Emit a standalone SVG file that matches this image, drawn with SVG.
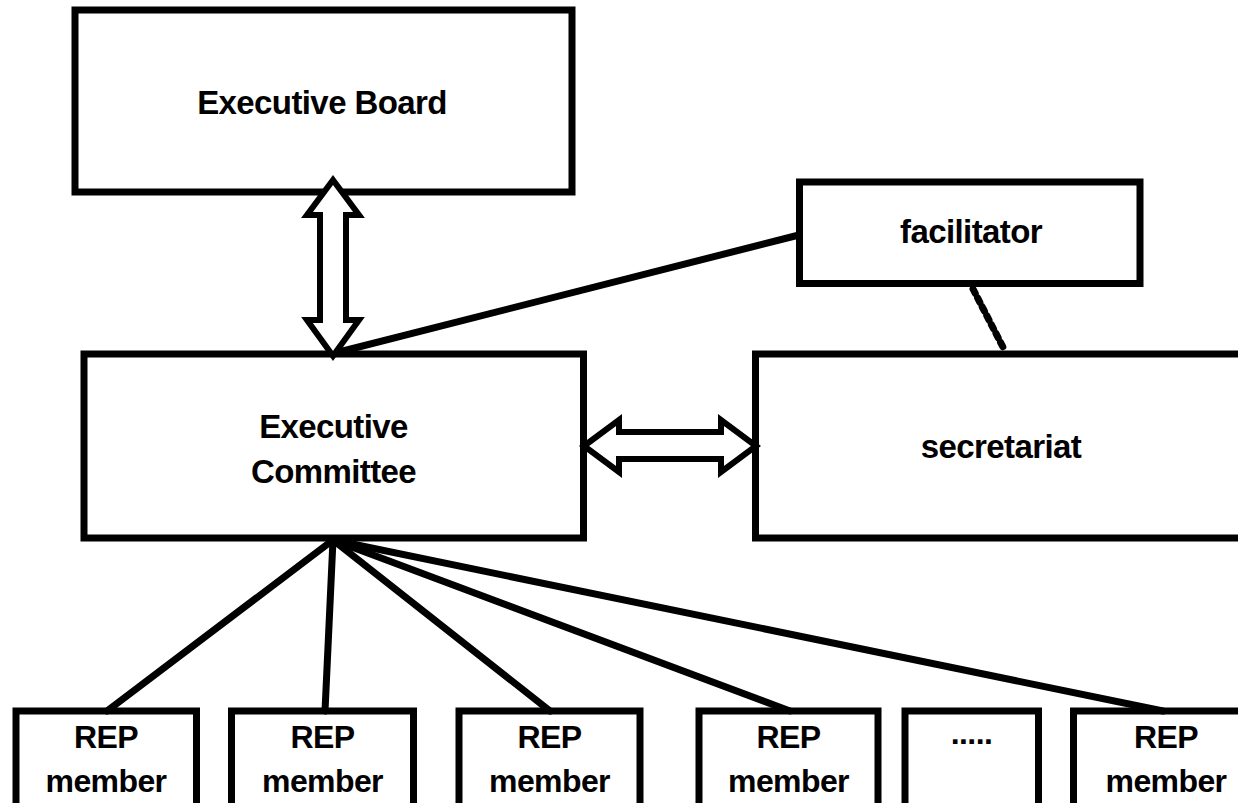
<svg xmlns="http://www.w3.org/2000/svg" width="1238" height="803" viewBox="0 0 1238 803">
<style>
.box{fill:#fff;stroke:#000;stroke-width:7}
.t{font-family:"Liberation Sans",Arial,sans-serif;font-weight:bold;font-size:33px;fill:#000;text-anchor:middle;letter-spacing:-0.6px}
.s{font-size:32px}
.ln{stroke:#000;stroke-width:7;fill:none;stroke-linecap:round}
.arr{fill:#fff;stroke:#000;stroke-width:6;stroke-linejoin:miter}
</style>
<rect width="1238" height="803" fill="#fff"/>
<g id="executive-board">
<rect class="box" x="75" y="10" width="497" height="182"/>
<text class="t" x="322" y="114">Executive Board</text>
</g>
<g id="facilitator">
<rect class="box" x="799.5" y="182" width="340.5" height="101.5"/>
<text class="t" x="971" y="243">facilitator</text>
</g>
<g id="executive-committee">
<rect class="box" x="84" y="354" width="499.5" height="184"/>
<text class="t" x="333.5" y="438">Executive</text>
<text class="t" x="333.5" y="483">Committee</text>
</g>
<g id="secretariat">
<rect class="box" x="755.5" y="354" width="500" height="184"/>
<text class="t" x="1001" y="458">secretariat</text>
</g>
<g id="rep1">
<rect class="box" x="16" y="711" width="180.5" height="110"/>
<text class="t s" x="106" y="748">REP</text>
<text class="t s" x="106" y="792">member</text>
</g>
<g id="rep2">
<rect class="box" x="231.5" y="711" width="182" height="110"/>
<text class="t s" x="322.5" y="748">REP</text>
<text class="t s" x="322.5" y="792">member</text>
</g>
<g id="rep3">
<rect class="box" x="459" y="711" width="181" height="110"/>
<text class="t s" x="549.5" y="748">REP</text>
<text class="t s" x="549.5" y="792">member</text>
</g>
<g id="rep4">
<rect class="box" x="699" y="711" width="179" height="110"/>
<text class="t s" x="788.5" y="748">REP</text>
<text class="t s" x="788.5" y="792">member</text>
</g>
<g id="ellipsis">
<rect class="box" x="905" y="711" width="133.5" height="110"/>
<text class="t s" x="971.5" y="744">.....</text>
</g>
<g id="rep6">
<rect class="box" x="1073.5" y="711" width="185" height="110"/>
<text class="t s" x="1166" y="748">REP</text>
<text class="t s" x="1166" y="792">member</text>
</g>
<g id="connectors">
<line class="ln" x1="333" y1="540" x2="107" y2="711"/>
<line class="ln" x1="333" y1="540" x2="325" y2="711"/>
<line class="ln" x1="333" y1="540" x2="550" y2="711"/>
<line class="ln" x1="333" y1="540" x2="790" y2="711"/>
<line class="ln" x1="333" y1="540" x2="1163" y2="711"/>
<line class="ln" x1="799" y1="235" x2="335" y2="353" stroke-width="6"/>
<line class="ln" x1="973" y1="289" x2="1005" y2="351" stroke-dasharray="5 5" stroke-linecap="butt"/>
<polygon class="arr" points="333,180 359,215 346,215 346,320 359,320 333,356 307,320 320,320 320,215 307,215"/>
<polygon class="arr" points="584,446 619,420 619,432 721,432 721,420 756,446 721,472 721,459 619,459 619,472"/>
</g>
</svg>
